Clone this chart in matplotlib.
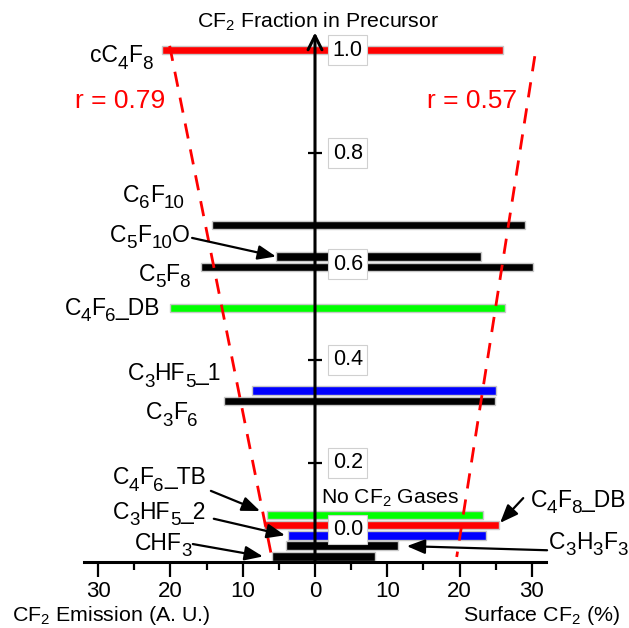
import re
import matplotlib
matplotlib.use("Agg")
import matplotlib.pyplot as plt
from matplotlib.transforms import IdentityTransform

plt.rcParams['font.family'] = ['Liberation Sans', 'DejaVu Sans']
plt.rcParams['mathtext.fontset'] = 'custom'
plt.rcParams['mathtext.rm'] = 'Liberation Sans'
plt.rcParams['mathtext.it'] = 'Liberation Sans:italic'
plt.rcParams['mathtext.bf'] = 'Liberation Sans:bold'

# ---------------- data ----------------
gases = ["cC4F8", "C6F10", "C5F10O", "C5F8", "C4F6_DB", "C3HF5_1", "C3F6",
         "C4F6_TB", "C4F8_DB", "C3HF5_2", "C3H3F3", "CHF3"]
# {n} marks a subscript
gas_formulas = ["cC{4}F{8}", "C{6}F{10}", "C{5}F{10}O", "C{5}F{8}",
                "C{4}F{6}_DB", "C{3}HF{5}_1", "C{3}F{6}",
                "C{4}F{6}_TB", "C{4}F{8}_DB", "C{3}HF{5}_2",
                "C{3}H{3}F{3}", "CHF{3}"]
# vertical plotting position (CF2 fraction; no-CF2 gases are stacked near 0)
cf2_fraction = [1.0, 0.661, 0.60, 0.58, 0.50, 0.34, 0.32,
                0.099, 0.080, 0.060, 0.040, 0.019]
cf2_emission = [21.2, 14.3, 5.4, 15.8, 20.05, 8.7, 12.6,
                6.6, 7.05, 3.7, 4.05, 6.0]          # plotted to the left
surface_cf2 = [26.0, 29.1, 22.9, 30.1, 26.3, 25.0, 24.95,
               23.3, 25.45, 23.65, 11.5, 8.3]        # plotted to the right
bar_colors = ["#ff0000", "black", "black", "black", "#00ff00", "#0000ff", "black",
              "#00ff00", "#ff0000", "#0000ff", "black", "black"]

# correlation fit lines
fit_left_x = [-20.1, -5.9]
fit_left_y = [1.008, 0.012]
fit_right_x = [30.4, 19.6]
fit_right_y = [0.988, 0.018]
r_left = 0.79
r_right = 0.57

xtick_values = [-30, -20, -10, 0, 10, 20, 30]
xminor_values = [-25, -15, -5, 5, 15, 25]
ytick_values = [0.2, 0.4, 0.6, 0.8, 1.0]
ytick_label_values = [0.0, 0.2, 0.4, 0.6, 0.8, 1.0]

# ---------------- figure ----------------
fig = plt.figure(figsize=(6.29, 6.28), dpi=100)
ax = fig.add_axes([0, 0, 1, 1])
XS = 7.23      # px per x unit
Y0, YS = 566.25, 516.25
ax.set_xlim(-315 / XS, (629 - 315) / XS)
ax.set_ylim((Y0 - 628) / YS, Y0 / YS)
renderer = fig.canvas.get_renderer()

FS = 15.4
FS_LAB = 16.5
FS_SUB = 13.5
SUB_DROP = 6.5  # px

bar_h = 0.0165
lefts = [-e for e in cf2_emission]
widths = [e + s for e, s in zip(cf2_emission, surface_cf2)]
ax.barh(cf2_fraction, widths, left=lefts, height=bar_h, color=bar_colors,
        edgecolor="#c8c8c8", linewidth=1.0, zorder=2)

# axes
for s in ["top", "right"]:
    ax.spines[s].set_visible(False)
ax.spines["bottom"].set_position(("data", 0.008))
ax.spines["bottom"].set_bounds(-32, 32)
ax.spines["bottom"].set_linewidth(2.2)
ax.spines["left"].set_position(("data", 0))
ax.spines["left"].set_visible(False)
ax.annotate("", xy=(0, 1.034), xytext=(0, 0.006),
            arrowprops=dict(arrowstyle="->,head_length=0.5,head_width=0.25",
                            lw=2.2, color="black", shrinkA=0, shrinkB=0,
                            mutation_scale=20),
            zorder=3)

ax.set_xticks(xtick_values)
ax.set_xticklabels([str(abs(v)) for v in xtick_values], fontsize=16)
ax.set_xticks(xminor_values, minor=True)
ax.tick_params(axis="x", which="major", direction="out", length=10.8, width=1.6, pad=3.0)
ax.tick_params(axis="x", which="minor", direction="out", length=5.5, width=1.6)
ax.set_yticks(ytick_values)
ax.set_yticklabels([])
ax.tick_params(axis="y", which="major", direction="inout", length=9.5, width=1.6)

# y tick labels in boxes (0.0 and 0.6 nudged as in the original)
label_shift = {0.0: 0.071, 0.6: -0.015}
for v in ytick_label_values:
    yy = label_shift[v] if v == 0.0 else v + label_shift.get(v, 0.0)
    ax.text(2.45, yy, f"{v:.1f}", fontsize=15.5, ha="left", va="center", zorder=6,
            bbox=dict(boxstyle="square,pad=0.2", fc="white", ec="#d0d0d0", lw=0.8))

# fit lines
ax.plot(fit_left_x, fit_left_y, color="#ff0000", lw=2.0, ls=(0, (5.5, 4)), zorder=4)
ax.plot(fit_right_x, fit_right_y, color="#ff0000", lw=2.0, ls=(0, (5.5, 4)), zorder=4)
ax.text(-33.2, 0.902, f"r = {r_left:.2f}", color="#ff0000", fontsize=19, ha="left", va="center")
ax.text(15.5, 0.902, f"r = {r_right:.2f}", color="#ff0000", fontsize=19, ha="left", va="center")


def draw_formula(x, y, formula, ha):
    """Draw a chemical formula with large subscripts; y is the baseline."""
    X, Y = ax.transData.transform((x, y))
    parts = [(m.group(1), False) if m.group(1) else (m.group(2), True)
             for m in re.finditer(r"([^{}]+)|\{([^}]*)\}", formula)]
    pieces = []
    total = 0.0
    for s, sub in parts:
        t = ax.text(0, 0, s, fontsize=FS_SUB if sub else FS_LAB,
                    transform=IdentityTransform(), ha="left", va="baseline")
        w = t.get_window_extent(renderer).width
        pieces.append((t, w, sub))
        total += w
    cx = X - total if ha == "right" else X
    for t, w, sub in pieces:
        t.set_position((cx, Y - SUB_DROP if sub else Y))
        cx += w


# gas labels (x, baseline y, alignment)
label_pos = {
    "cC4F8": (-22.5, 0.976, "right"),
    "C6F10": (-18.0, 0.706, "right"),
    "C5F10O": (-17.3, 0.629, "right"),
    "C5F8": (-17.3, 0.553, "right"),
    "C4F6_DB": (-21.4, 0.487, "right"),
    "C3HF5_1": (-13.0, 0.360, "right"),
    "C3F6": (-16.3, 0.285, "right"),
    "C4F6_TB": (-15.1, 0.159, "right"),
    "C3HF5_2": (-15.1, 0.092, "right"),
    "CHF3": (-17.0, 0.032, "right"),
    "C4F8_DB": (29.8, 0.115, "left"),
    "C3H3F3": (32.4, 0.034, "left"),
}
for g, f in zip(gases, gas_formulas):
    x, y, ha = label_pos[g]
    draw_formula(x, y, f, ha)

# arrows from labels to bars
idx = {g: i for i, g in enumerate(gases)}
arrow_specs = [
    ("C5F10O", (-17.0, 0.636), "left", 0.0, 0.0),
    ("C4F6_TB", (-14.4, 0.146), "left", -1.0, 0.008),
    ("C3HF5_2", (-14.0, 0.092), "left", -0.45, 0.0),
    ("CHF3", (-16.9, 0.043), "left", -1.2, 0.0),
    ("C4F8_DB", (28.8, 0.132), "right", 0.15, 0.004),
    ("C3H3F3", (32.1, 0.031), "right", 1.2, -0.001),
]
for g, start, side, dx, dy in arrow_specs:
    i = idx[g]
    xend = -cf2_emission[i] if side == "left" else surface_cf2[i]
    ax.annotate("", xy=(xend + dx, cf2_fraction[i] + dy), xytext=start,
                arrowprops=dict(arrowstyle="-|>,head_length=0.55,head_width=0.22",
                                lw=1.6, color="black", shrinkA=0, shrinkB=0,
                                mutation_scale=20), zorder=5)

# other text
ax.text(0.4, 1.054, "CF$_2$ Fraction in Precursor", fontsize=15.3, ha="center", va="center")
ax.text(0.83, 0.132, "No CF$_2$ Gases", fontsize=15.2, ha="left", va="center")
ax.text(-41.9, -0.096, "CF$_2$ Emission (A. U.)", fontsize=FS, ha="left", va="center")
ax.text(20.5, -0.096, "Surface CF$_2$ (%)", fontsize=FS, ha="left", va="center")

fig.savefig("out.png", dpi=100)
